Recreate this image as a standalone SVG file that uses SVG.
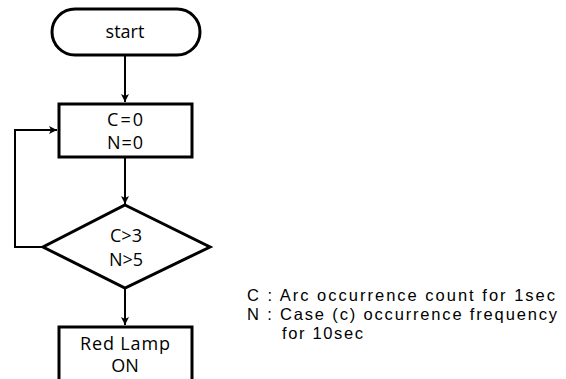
<svg xmlns="http://www.w3.org/2000/svg" width="566" height="379" viewBox="0 0 566 379">
<style>
.node{fill:#fff;stroke:#000;stroke-width:3}
.t{font-family:"Open Sans","Noto Sans","DejaVu Sans",sans-serif;font-size:18px;fill:#000;text-anchor:middle}
.lg{font-family:"Liberation Sans","DejaVu Sans",sans-serif;font-size:16.5px;fill:#000}
.c{fill:none;stroke:#000;stroke-width:2}
</style>
<defs>
<marker id="ah" markerWidth="10" markerHeight="10" refX="9" refY="5" orient="auto" markerUnits="userSpaceOnUse">
<path d="M1,1 L9,5 L1,9 L3,5 Z" fill="#000"/>
</marker>
</defs>
<rect width="566" height="379" fill="#fff"/>
<g id="connectors">
<line class="c" x1="125" y1="55" x2="125" y2="102" marker-end="url(#ah)"/>
<line class="c" x1="125" y1="157" x2="125" y2="204" marker-end="url(#ah)"/>
<line class="c" x1="125" y1="288" x2="125" y2="325" marker-end="url(#ah)"/>
<polyline class="c" points="43,247 15,247 15,130 57,130" marker-end="url(#ah)"/>
</g>
<g id="start">
<rect class="node" x="52" y="9" width="148" height="46" rx="23" ry="23"/>
<text class="t" x="125" y="38">start</text>
</g>
<g id="init">
<rect class="node" x="59" y="104" width="133" height="53"/>
<text class="t" x="125" y="126" textLength="36" lengthAdjust="spacing">C=0</text>
<text class="t" x="125" y="149" textLength="36" lengthAdjust="spacing">N=0</text>
</g>
<g id="decision">
<polygon class="node" points="125,205 210,247 125,288 43,247"/>
<text class="t" x="126" y="242">C&gt;3</text>
<text class="t" x="126" y="266">N&gt;5</text>
</g>
<g id="redlamp">
<rect class="node" x="59" y="327" width="133" height="70"/>
<text class="t" x="125" y="350" textLength="90" lengthAdjust="spacing">Red Lamp</text>
<text class="t" x="125" y="372">ON</text>
</g>
<g id="legend">
<text class="lg" x="247" y="301" textLength="308" lengthAdjust="spacing">C : Arc occurrence count for 1sec</text>
<text class="lg" x="247" y="320" textLength="310" lengthAdjust="spacing">N : Case  (c) occurrence frequency</text>
<text class="lg" x="282" y="339" textLength="81" lengthAdjust="spacing">for 10sec</text>
</g>
</svg>
